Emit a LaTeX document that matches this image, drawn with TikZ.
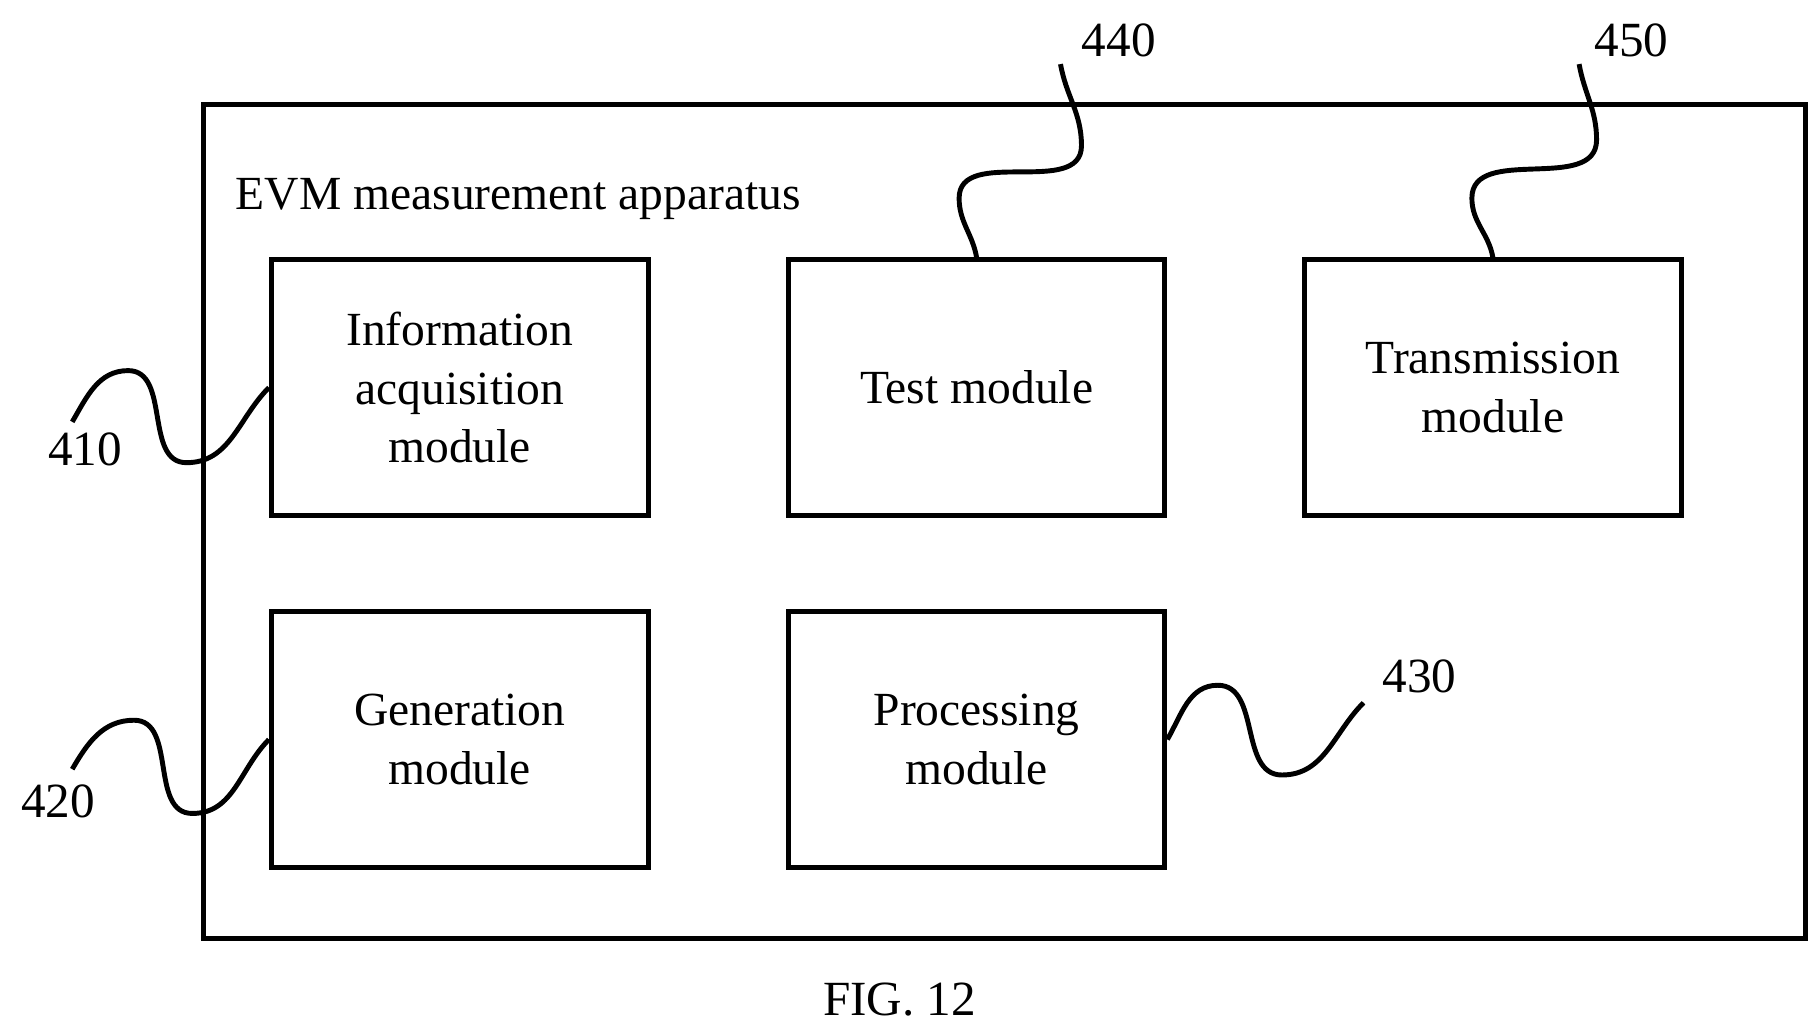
\documentclass[tikz,border=0pt]{standalone}
\usepackage{fontspec}
\setmainfont{Liberation Serif}
\usetikzlibrary{positioning}
\begin{document}
\begin{tikzpicture}[x=0.01cm,y=-0.01cm]
		\tikzstyle{Module}=[rectangle,draw=black,line width=1.2pt,minimum width=3.23cm,minimum height=2.19cm,align=center,font=\fontsize{11.6}{14.2}\selectfont]
		\tikzstyle{Ref}=[font=\fontsize{12}{14}\selectfont]
		\tikzstyle{Lead}=[line width=1.2pt]

		\useasboundingbox (0,0) rectangle (1560,887);
		\node [draw=black,line width=1.2pt,minimum width=13.74cm,minimum height=7.15cm] (Frame) at (862,447.5) {};
		\node [anchor=base west,font=\fontsize{11.6}{14.2}\selectfont] (Title) at (190,180) {EVM measurement apparatus};

		\node [Module] (Info) at (394.5,332.5) {Information\\acquisition\\module};
		\node [Module] (Test) at (838,332.5) {Test module};
		\node [Module] (Trans) at (1281,332.5) {Transmission\\module};
		\node [Module] (Gen) at (394.5,634.5) {Generation\\module};
		\node [Module] (Proc) at (838,634.5) {Processing\\module};

		\node [Ref] (L410) at (73,386) {410};
		\node [Ref] (L420) at (50,688) {420};
		\node [Ref] (L430) at (1218,580) {430};
		\node [Ref] (L440) at (960,35) {440};
		\node [Ref] (L450) at (1400,35) {450};

		\coordinate (E410) at (62,362);
		\coordinate (E420) at (62,660);
		\coordinate (E430) at (1170,603);
		\coordinate (E440) at (910,55);
		\coordinate (E450) at (1355,55);

		\draw [Lead] (Info.west) to[out=-135,in=0] (160,397) to[out=180,in=0] (110,318) to[out=180,in=60] (E410);
		\draw [Lead] (Gen.west) to[out=-135,in=0] (165,698) to[out=180,in=0] (115,618) to[out=180,in=60] (E420);
		\draw [Lead] (Proc.east) to[out=60,in=180] (1045,588) to[out=0,in=180] (1100,665) to[out=0,in=225] (E430);
		\draw [Lead] (Test.north) to[out=100,in=-90] (823,170) to[out=90,in=-90] (928,125) to[out=90,in=-80] (E440);
		\draw [Lead] (Trans.north) to[out=100,in=-90] (1263,170) to[out=90,in=-90] (1370,120) to[out=90,in=-80] (E450);

		\node [Ref] (Fig) at (772,858) {FIG. 12};
\end{tikzpicture}
\end{document}
